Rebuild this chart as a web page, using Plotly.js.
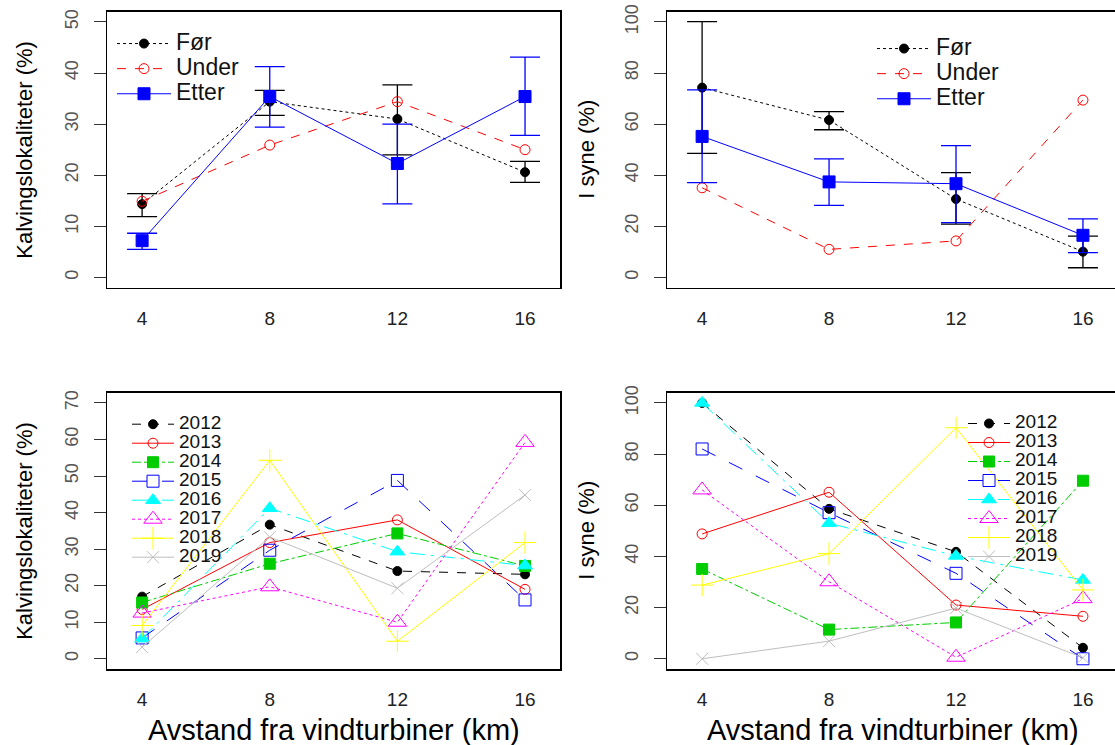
<!DOCTYPE html>
<html>
<head>
<meta charset="utf-8">
<script src="https://cdn.plot.ly/plotly-3.0.1.min.js"></script>
<style>html,body{margin:0;padding:0;background:#fff;}#chart{width:1115px;height:745px;}</style>
</head>
<body>
<div id="chart"></div>
<script>
// ---------- data ----------
const distKm = [4, 8, 12, 16];
const periodNames = ['Før', 'Under', 'Etter'];
const yearNames = ['2012', '2013', '2014', '2015', '2016', '2017', '2018', '2019'];

// top-left: Kalvingslokaliteter (%) by period (mean, upper, lower)
const kalvFor = [14.35, 34.4, 31.0, 20.6];
const kalvForHi = [16.4, 36.6, 37.7, 22.7];
const kalvForLo = [11.9, 31.7, 24.0, 18.6];
const kalvUnder = [14.9, 25.9, 34.4, 25.0];
const kalvEtter = [7.2, 35.4, 22.3, 35.4];
const kalvEtterHi = [8.65, 41.25, 30.0, 43.1];
const kalvEtterLo = [5.5, 29.4, 14.4, 27.8];

// top-right: I syne (%) by period
const syneFor = [74.3, 61.6, 30.7, 10.1];
const syneForHi = [100.1, 64.9, 41.0, 16.2];
const syneForLo = [48.6, 57.8, 20.9, 3.8];
const syneUnder = [35.1, 11.0, 14.3, 69.4];
const syneEtter = [55.2, 37.4, 36.7, 16.5];
const syneEtterHi = [73.4, 46.4, 51.6, 22.9];
const syneEtterLo = [37.1, 28.2, 21.5, 9.7];

// bottom-left: Kalvingslokaliteter (%) by year
const kalv2012 = [17.0, 36.7, 24.0, 23.1];
const kalv2013 = [13.5, 31.8, 38.0, 19.0];
const kalv2014 = [15.4, 26.0, 34.3, 25.4];
const kalv2015 = [5.7, 29.7, 48.8, 16.1];
const kalv2016 = [5.5, 41.2, 29.3, 25.5];
const kalv2017 = [12.5, 19.7, 10.0, 59.2];
const kalv2018 = [9.1, 54.3, 4.8, 31.8];
const kalv2019 = [3.2, 33.3, 19.3, 44.8];

// bottom-right: I syne (%) by year
const syne2012 = [100, 58.6, 41.8, 4.3];
const syne2013 = [48.8, 65.1, 21.0, 16.6];
const syne2014 = [35.1, 11.4, 14.2, 69.6];
const syne2015 = [82.0, 57.1, 33.4, 0];
const syne2016 = [100, 53.0, 40.2, 30.8];
const syne2017 = [66.0, 30.1, 0.6, 23.5];
const syne2018 = [28.8, 41.1, 90.3, 26.9];
const syne2019 = [0, 6.9, 19.8, 0.4];

// ---------- styles ----------
const FONT = 'Liberation Sans, Arial, Helvetica, sans-serif';
const periodStyle = [
  {color: '#000000', dash: 'dot', symbol: 'circle', size: 9},
  {color: '#FF0000', dash: 'dash', symbol: 'circle-open', size: 10},
  {color: '#0000FF', dash: 'solid', symbol: 'square', size: 12}
];
const yearStyle = [
  {color: '#000000', dash: 'dash', symbol: 'circle', size: 9},
  {color: '#FF0000', dash: 'solid', symbol: 'circle-open', size: 10},
  {color: '#00CD00', dash: 'dashdot', symbol: 'square', size: 11},
  {color: '#0000FF', dash: 'longdash', symbol: 'square-open', size: 12},
  {color: '#00FFFF', dash: 'longdashdot', symbol: 'triangle-up', size: 13},
  {color: '#FF00FF', dash: 'dot', symbol: 'triangle-up-open', size: 16},
  {color: '#FFFF00', dash: 'solid', symbol: 'cross-thin-open', size: 16},
  {color: '#BEBEBE', dash: 'solid', symbol: 'x-thin-open', size: 12}
];

function diff(a, b) { return a.map((v, i) => v - b[i]); }

function periodTrace(i, y, hi, lo, ax, legendId, showErr) {
  const s = periodStyle[i];
  const t = {
    type: 'scatter', mode: 'lines+markers', x: distKm, y: y,
    name: '<span style="font-size:23px">' + periodNames[i] + '</span>',
    legend: legendId, xaxis: 'x' + ax, yaxis: 'y' + ax,
    line: {color: s.color, dash: s.dash, width: 1},
    marker: {color: s.color, symbol: s.symbol, size: s.size, line: {color: s.color, width: 1}},
    hoverinfo: 'x+y'
  };
  if (showErr) {
    t.error_y = {type: 'data', symmetric: false, array: diff(hi, y), arrayminus: diff(y, lo),
      color: s.color, thickness: 1.3, width: 15};
  }
  return t;
}

function yearTrace(i, y, ax, legendId) {
  const s = yearStyle[i];
  return {
    type: 'scatter', mode: 'lines+markers', x: distKm, y: y,
    name: '<span style="font-size:19px">' + yearNames[i] + '</span>',
    legend: legendId, xaxis: 'x' + ax, yaxis: 'y' + ax,
    line: {color: s.color, dash: s.dash, width: 1},
    marker: {color: s.color, symbol: s.symbol, size: s.size, line: {color: s.color, width: 1}},
    hoverinfo: 'x+y'
  };
}

const kalvYears = [kalv2012, kalv2013, kalv2014, kalv2015, kalv2016, kalv2017, kalv2018, kalv2019];
const syneYears = [syne2012, syne2013, syne2014, syne2015, syne2016, syne2017, syne2018, syne2019];

const traces = [
  periodTrace(0, kalvFor, kalvForHi, kalvForLo, '', 'legend', true),
  periodTrace(1, kalvUnder, null, null, '', 'legend', false),
  periodTrace(2, kalvEtter, kalvEtterHi, kalvEtterLo, '', 'legend', true),
  periodTrace(0, syneFor, syneForHi, syneForLo, '2', 'legend2', true),
  periodTrace(1, syneUnder, null, null, '2', 'legend2', false),
  periodTrace(2, syneEtter, syneEtterHi, syneEtterLo, '2', 'legend2', true)
];
kalvYears.forEach((y, i) => traces.push(yearTrace(i, y, '3', 'legend3')));
syneYears.forEach((y, i) => traces.push(yearTrace(i, y, '4', 'legend4')));

// ---------- layout ----------
const W = 1115, H = 745;
const leftDom = [107.3 / W, 560 / W];
const rightDom = [667.3 / W, 1];
const topDom = [1 - 287.7 / H, 1 - 11.7 / H];
const botDom = [1 - 669 / H, 1 - 392.7 / H];

function xAx(dom, range, anchor) {
  return {domain: dom, range: range, anchor: anchor, tickvals: distKm, ticks: '',
    showgrid: false, zeroline: false, showline: true, linecolor: '#000', linewidth: 1.5, mirror: true,
    tickfont: {family: FONT, size: 19, color: '#222'}, ticklabelstandoff: 13, fixedrange: true};
}
function yAx(dom, range, tickvals, anchor, mirror) {
  return {domain: dom, range: range, anchor: anchor, tickvals: tickvals, ticks: 'outside', ticklen: 12,
    tickcolor: '#333', tickwidth: 1, tickangle: -90,
    showgrid: false, zeroline: false, showline: true, linecolor: '#000', linewidth: 1.5, mirror: mirror,
    tickfont: {family: FONT, size: 18, color: '#555'}, ticklabelstandoff: 9, fixedrange: true};
}
function legendCfg(xPx, yTopPx, fs, iw) {
  return {x: xPx / W, y: 1 - yTopPx / H, xanchor: 'left', yanchor: 'top', bgcolor: 'rgba(0,0,0,0)',
    borderwidth: 0, font: {family: FONT, size: fs, color: '#111'}, itemwidth: iw, tracegroupgap: 0,
    traceorder: 'normal', itemclick: false, itemdoubleclick: false};
}
function ann(text, xPx, yPx, size, angle) {
  return {text: text, x: xPx / W, y: 1 - yPx / H, xref: 'paper', yref: 'paper', showarrow: false,
    xanchor: 'center', yanchor: 'middle', textangle: angle,
    font: {family: FONT, size: size, color: '#000'}};
}

const layout = {
  width: W, height: H, margin: {l: 0, r: 0, t: 0, b: 0},
  paper_bgcolor: '#fff', plot_bgcolor: '#fff', showlegend: true,
  xaxis: xAx(leftDom, [2.909, 17.096], 'y'),
  yaxis: yAx(topDom, [-2, 52], [0, 10, 20, 30, 40, 50], 'x', true),
  xaxis2: xAx(rightDom, [2.903, 17.01], 'y2'),
  yaxis2: yAx(topDom, [-4, 104], [0, 20, 40, 60, 80, 100], 'x2', false),
  xaxis3: xAx(leftDom, [2.909, 17.096], 'y3'),
  yaxis3: yAx(botDom, [-2.8, 72.8], [0, 10, 20, 30, 40, 50, 60, 70], 'x3', true),
  xaxis4: xAx(rightDom, [2.903, 17.01], 'y4'),
  yaxis4: yAx(botDom, [-4, 104], [0, 20, 40, 60, 80, 100], 'x4', false),
  legend: legendCfg(112, 26, 17, 54),
  legend2: legendCfg(872, 31, 17, 54),
  legend3: legendCfg(127, 409.7, 12, 42),
  legend4: legendCfg(963, 409, 12, 42),
  annotations: [
    ann('Kalvingslokaliteter (%)', 25, 149.7, 22, -90),
    ann('I syne (%)', 587, 149.7, 22, -90),
    ann('Kalvingslokaliteter (%)', 25, 530.8, 22, -90),
    ann('I syne (%)', 587, 530.8, 22, -90),
    ann('Avstand fra vindturbiner (km)', 333.7, 730, 29, 0),
    ann('Avstand fra vindturbiner (km)', 892.5, 730, 29, 0)
  ]
};

Plotly.newPlot('chart', traces, layout, {displayModeBar: false, staticPlot: true});
</script>
</body>
</html>
